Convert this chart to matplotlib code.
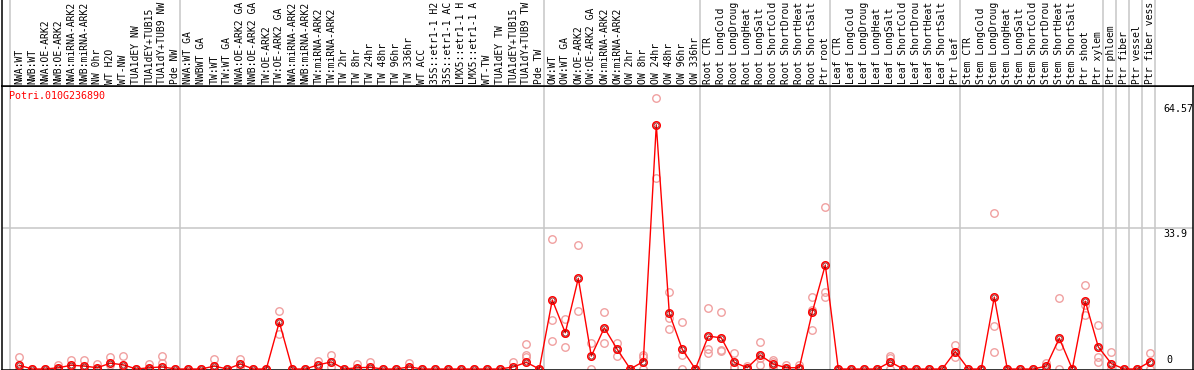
import matplotlib.pyplot as plt

W, H = 1194, 370

gene = 'Potri.010G236890'

# labels as far as they are readable in the picture (long ones are cut at the top)
labels = [
    'NWA:WT', 'NWB:WT', 'NWA:OE-ARK2', 'NWB:OE-ARK2', 'NWA:miRNA-ARK2', 'NWB:miRNA-ARK2',
    'NW 0hr', 'WT H2O', 'WT-NW', 'TUA1dEY NW', 'TUA1dEY+TUB15', 'TUA1dY+TUB9 NW', 'Pde NW',
    'NWA:WT GA', 'NWBWT GA', 'TW:WT', 'TW:WT GA', 'NWA:OE-ARK2 GA', 'NWB:OE-ARK2 GA',
    'TW:OE-ARK2', 'TW:OE-ARK2 GA', 'NWA:miRNA-ARK2', 'NWB:miRNA-ARK2', 'TW:miRNA-ARK2',
    'TW:miRNA-ARK2', 'TW 2hr', 'TW 8hr', 'TW 24hr', 'TW 48hr', 'TW 96hr', 'TW 336hr',
    'WT ACC', '35S::etr1-1 H2', '35S::etr1-1 AC', 'LMX5::etr1-1 H', 'LMX5::etr1-1 A',
    'WT-TW', 'TUA1dEY TW', 'TUA1dEY+TUB15', 'TUA1dY+TUB9 TW', 'Pde TW',
    'OW:WT', 'OW:WT GA', 'OW:OE-ARK2', 'OW:OE-ARK2 GA', 'OW:miRNA-ARK2', 'OW:miRNA-ARK2',
    'OW 2hr', 'OW 8hr', 'OW 24hr', 'OW 48hr', 'OW 96hr', 'OW 336hr',
    'Root CTR', 'Root LongCold', 'Root LongDroug', 'Root LongHeat', 'Root LongSalt',
    'Root ShortCold', 'Root ShortDrou', 'Root ShortHeat', 'Root ShortSalt', 'Ptr root',
    'Leaf CTR', 'Leaf LongCold', 'Leaf LongDroug', 'Leaf LongHeat', 'Leaf LongSalt',
    'Leaf ShortCold', 'Leaf ShortDrou', 'Leaf ShortHeat', 'Leaf ShortSalt', 'Ptr leaf',
    'Stem CTR', 'Stem LongCold', 'Stem LongDroug', 'Stem LongHeat', 'Stem LongSalt',
    'Stem ShortCold', 'Stem ShortDrou', 'Stem ShortHeat', 'Stem ShortSalt', 'Ptr shoot',
    'Ptr xylem', 'Ptr phloem', 'Ptr fiber', 'Ptr vessel', 'Ptr fiber vess',
]

group_sizes = [13, 28, 12, 10, 10, 11, 1, 1, 1, 1]

means = [
    0.9, 0, 0, 0.3, 0.9, 0.7, 0.3, 1.4, 1.0, 0, 0.3, 0.5, 0,
    0, 0, 0.7, 0, 1.2, 0, 0, 11.3, 0, 0, 1.0, 1.7, 0, 0.3, 0.4, 0, 0, 0.5,
    0, 0, 0, 0, 0, 0, 0, 0.5, 1.6, 0,
    16.6, 8.7, 21.8, 3.1, 9.9, 4.7, 0, 1.8, 58.7, 13.4, 4.7, 0,
    7.9, 7.5, 1.6, 0.3, 3.3, 1.2, 0.3, 0.3, 13.7, 25.0,
    0, 0, 0, 0, 1.7, 0, 0, 0, 0, 4.2,
    0, 0, 17.3, 0, 0, 0, 0.7, 7.4, 0, 16.3, 5.3,
    1.3, 0, 0, 1.8,
]

reps = [
    [3.0, 0, 0], [0], [0], [0.9, 0], [2.1, 0.6], [2.1, 0], [1.3, 0], [3.0, 1.0], [3.1, 0], [0],
    [1.3, 0], [3.1, 1.5], [0],
    [0], [0], [2.3, 0], [0], [2.3, 0.5], [0], [0], [13.9, 8.5], [0], [0], [2.0, 0], [3.4, 0.4],
    [0], [1.2, 0], [1.7, 0], [0], [0], [1.4, 0],
    [0], [0], [0], [0], [0], [0], [0], [1.7, 0], [5.9, 3.4, 2.8], [0],
    [31.2, 11.7, 6.7], [12.1, 5.3, 8.7], [29.7, 13.9], [6.2, 0], [13.7, 6.2], [6.3, 3.2], [0],
    [3.3, 3.0, 0], [65.1, 45.8], [18.4, 12.2, 9.6], [11.2, 3.4, 0], [0],
    [14.7, 4.7, 3.8], [13.6, 4.6, 4.3], [3.8, 0.6, 0.3], [0.8, 0], [6.4, 2.6, 1.0],
    [2.2, 1.8, 0.6], [0.9, 0], [1.0, 0], [17.3, 14.3, 9.3], [38.9, 18.4, 17.3],
    [0], [0], [0], [0], [3.2, 2.7, 0], [0], [0], [0], [0], [5.8, 4.2, 2.8],
    [0], [0], [37.4, 10.4, 4.0], [0], [0], [0], [1.5, 0], [17.1, 5.5, 0], [0],
    [20.1, 15.3, 12.9], [10.5, 3.0, 1.8],
    [4.1, 0], [0], [0], [3.8, 0],
]

y_marks = [64.57, 33.9, 0]

# pixel layout of the original picture
x0, dx = 19.3, 13.0        # centre of first column, column step
zero_px, px_per = 369.0, 4.16
left, right, top, bot = 2, 1193, 86, 369.5

mono = 'DejaVu Sans Mono'
fs = 7.2
grey = '#c6c6c6'

fig = plt.figure(figsize=(W / 100, H / 100), dpi=100)
ax = fig.add_axes([left / W, 1 - bot / H, (right - left) / W, (bot - top) / H])
lab = fig.add_axes([left / W, 1 - top / H, (right - left) / W, top / H])

xl = ((left - x0) / dx, (right - x0) / dx)
ax.set_xlim(xl)
ax.set_ylim((zero_px - bot) / px_per, (zero_px - top) / px_per)
lab.set_xlim(xl)
lab.set_ylim(top, 0)

for a in (ax, lab):
    a.set_xticks([])
    a.set_yticks([])
    for s in a.spines.values():
        s.set_linewidth(1.1)
        s.set_color('black')
lab.spines['top'].set_visible(False)
lab.spines['right'].set_visible(False)

# group separators
xs = list(range(len(labels)))
bounds = [-0.72]
n = 0
for g in group_sizes:
    n += g
    bounds.append(n - 1 + 0.37)
for b in bounds:
    ax.axvline(b, color=grey, lw=1.1, zorder=0)
    lab.axvline(b, color=grey, lw=1.1, zorder=0)
ax.axhline(y_marks[1], color=grey, lw=1.1, zorder=0)

for i, s in enumerate(labels):
    lab.text(i, 84.5, s, rotation=90, ha='center', va='bottom', family=mono, fontsize=7.0)

# replicates
for i, r in enumerate(reps):
    ax.plot([i] * len(r), r, 'o', ms=5.4, mfc='none', mec='#f0a0a0', mew=1.0, zorder=2)

ax.plot(xs, means, '-', color='red', lw=1.0, zorder=3)
ax.plot(xs, means, 'o', ms=5.4, mfc='none', mec='red', mew=1.1, zorder=4)
ax.plot(xs, means, 'o', ms=3.6, mfc='none', mec='#700000', mew=0.5, zorder=4)

ax.text(0.006, 0.965, gene, transform=ax.transAxes, color='red', family=mono,
        fontsize=fs, va='center', ha='left')

ytr = ax.get_yaxis_transform()
ax.text(0.9748, y_marks[0] - 0.8, '64.57', transform=ytr, family=mono, fontsize=fs, va='top')
ax.text(0.9752, y_marks[1] - 0.3, '33.9', transform=ytr, family=mono, fontsize=fs, va='top')
ax.text(0.9775, y_marks[2] + 0.9, '0', transform=ytr, family=mono, fontsize=fs, va='bottom')

fig.savefig('out.png', dpi=100)
